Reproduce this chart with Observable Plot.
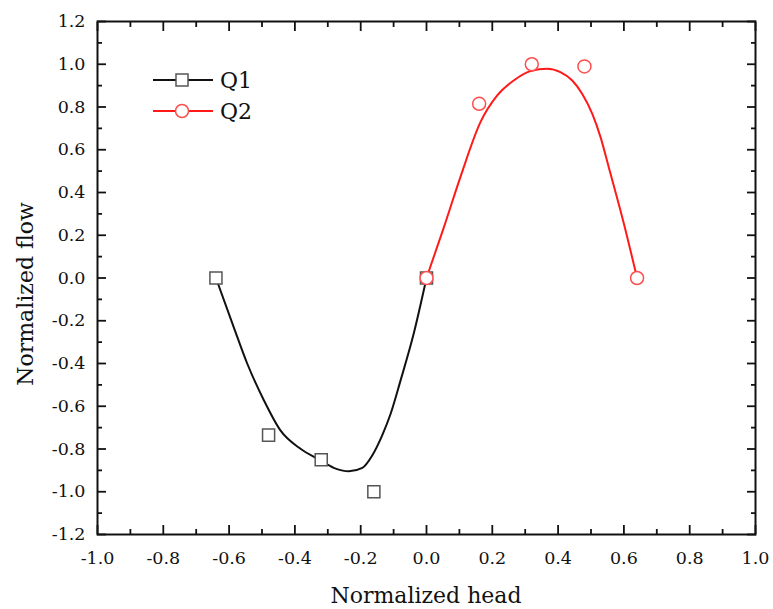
<!DOCTYPE html>
<html>
<head>
<meta charset="utf-8">
<script src="https://cdn.jsdelivr.net/npm/d3@7"></script>
<script src="https://cdn.jsdelivr.net/npm/@observablehq/plot@0.6"></script>
<style>
  html, body { margin: 0; padding: 0; background: #fff; }
  #chart { width: 773px; height: 609px; }
</style>
</head>
<body>
<div id="chart"></div>
<script>
// Measured points
const q1Head = [-0.64, -0.48, -0.32, -0.16, 0.0];
const q1Flow = [0.0, -0.735, -0.85, -1.0, 0.0];
const q2Head = [0.0, 0.16, 0.32, 0.48, 0.64];
const q2Flow = [0.0, 0.815, 1.0, 0.99, 0.0];

// Fitted curves
const q1CurveHead = [-0.64, -0.586, -0.545, -0.494, -0.444, -0.383, -0.322, -0.282, -0.236, -0.195, -0.165, -0.135, -0.109, -0.079, -0.039, 0.0];
const q1CurveFlow = [0.0, -0.23, -0.40, -0.573, -0.713, -0.799, -0.853, -0.888, -0.904, -0.888, -0.830, -0.737, -0.635, -0.480, -0.261, 0.0];
const q2CurveHead = [0.0, 0.053, 0.103, 0.164, 0.215, 0.265, 0.316, 0.367, 0.407, 0.443, 0.473, 0.504, 0.529, 0.554, 0.600, 0.64];
const q2CurveFlow = [0.0, 0.238, 0.472, 0.729, 0.854, 0.924, 0.968, 0.979, 0.963, 0.924, 0.862, 0.768, 0.659, 0.518, 0.254, 0.0];

// Ticks
const xMajorTicks = [-1.0, -0.8, -0.6, -0.4, -0.2, 0.0, 0.2, 0.4, 0.6, 0.8, 1.0];
const xMinorTicks = [-0.9, -0.7, -0.5, -0.3, -0.1, 0.1, 0.3, 0.5, 0.7, 0.9];
const yMajorTicks = [-1.2, -1.0, -0.8, -0.6, -0.4, -0.2, 0.0, 0.2, 0.4, 0.6, 0.8, 1.0, 1.2];
const yMinorTicks = [-1.1, -0.9, -0.7, -0.5, -0.3, -0.1, 0.1, 0.3, 0.5, 0.7, 0.9, 1.1];

const seriesNames = ["Q1", "Q2"];
const xTitle = "Normalized head";
const yTitle = "Normalized flow";

const q1Pts = q1Head.map((h, i) => ({h, f: q1Flow[i]}));
const q2Pts = q2Head.map((h, i) => ({h, f: q2Flow[i]}));
const q1Curve = q1CurveHead.map((h, i) => ({h, f: q1CurveFlow[i]}));
const q2Curve = q2CurveHead.map((h, i) => ({h, f: q2CurveFlow[i]}));

const fmt = d => d.toFixed(1);
const font = "DejaVu Serif, serif";

const plot = Plot.plot({
  width: 773,
  height: 609,
  marginLeft: 97,
  marginRight: 18,
  marginTop: 21,
  marginBottom: 75,
  style: {fontFamily: font, fontSize: "17px", color: "#111", background: "#fff"},
  x: {domain: [-1, 1]},
  y: {domain: [-1.2, 1.2]},
  marks: [
    // labels
    Plot.axisX({ticks: xMajorTicks, tickFormat: fmt, tickSize: 0, tickPadding: 17, label: null, fill: "#111"}),
    Plot.axisY({ticks: yMajorTicks, tickFormat: fmt, tickSize: 0, tickPadding: 12, label: null, fill: "#111"}),
    // inward ticks
    Plot.axisX({anchor: "bottom", ticks: xMajorTicks, tickSize: -9, text: null, label: null, strokeWidth: 1.8}),
    Plot.axisX({anchor: "bottom", ticks: xMinorTicks, tickSize: -5, text: null, label: null, strokeWidth: 1.8}),
    Plot.axisX({anchor: "top", ticks: xMajorTicks, tickSize: -9, text: null, label: null, strokeWidth: 1.8}),
    Plot.axisX({anchor: "top", ticks: xMinorTicks, tickSize: -5, text: null, label: null, strokeWidth: 1.8}),
    Plot.axisY({anchor: "left", ticks: yMajorTicks, tickSize: -9, text: null, label: null, strokeWidth: 1.8}),
    Plot.axisY({anchor: "left", ticks: yMinorTicks, tickSize: -5, text: null, label: null, strokeWidth: 1.8}),
    Plot.axisY({anchor: "right", ticks: yMajorTicks, tickSize: -9, text: null, label: null, strokeWidth: 1.8}),
    Plot.axisY({anchor: "right", ticks: yMinorTicks, tickSize: -5, text: null, label: null, strokeWidth: 1.8}),
    Plot.frame({stroke: "#111", strokeWidth: 2}),
    // curves
    Plot.line(q1Curve, {x: "h", y: "f", curve: "monotone-x", stroke: "#111", strokeWidth: 2}),
    Plot.line(q2Curve, {x: "h", y: "f", curve: "monotone-x", stroke: "#ff1a1a", strokeWidth: 2}),
    // markers
    Plot.dot(q1Pts, {x: "h", y: "f", symbol: "square", r: 6.8, stroke: "#555", strokeWidth: 1.5, fill: "white"}),
    Plot.dot(q2Pts, {x: "h", y: "f", symbol: "circle", r: 6.5, stroke: "#ff4d4d", strokeWidth: 1.5, fill: "white"})
  ]
});

const svg = d3.select(plot);
// force tick label size on every Plot-generated text
svg.selectAll("text").style("font-size", "17.5px").style("font-family", font);

// axis titles
svg.append("text").attr("x", 426).attr("y", 603).attr("text-anchor", "middle")
  .attr("font-family", font).attr("font-size", 22).attr("fill", "#111").text(xTitle);
svg.append("text").attr("transform", "translate(33,294) rotate(-90)").attr("text-anchor", "middle")
  .attr("font-family", font).attr("font-size", 22).attr("fill", "#111").text(yTitle);

// legend
const lg = svg.append("g");
const rows = [
  {name: seriesNames[0], y: 80, color: "#111", mstroke: "#555", sym: "square"},
  {name: seriesNames[1], y: 111, color: "#ff1a1a", mstroke: "#ff4d4d", sym: "circle"}
];
rows.forEach(r => {
  lg.append("line").attr("x1", 153).attr("x2", 213).attr("y1", r.y).attr("y2", r.y)
    .attr("stroke", r.color).attr("stroke-width", 2);
  if (r.sym === "square") {
    lg.append("rect").attr("x", 176).attr("y", r.y - 6).attr("width", 12).attr("height", 12)
      .attr("fill", "white").attr("stroke", r.mstroke).attr("stroke-width", 1.5);
  } else {
    lg.append("circle").attr("cx", 182).attr("cy", r.y).attr("r", 6.5)
      .attr("fill", "white").attr("stroke", r.mstroke).attr("stroke-width", 1.5);
  }
  lg.append("text").attr("x", 220).attr("y", r.y + 8).attr("text-anchor", "start")
    .attr("font-family", font).attr("font-size", 22).attr("fill", "#111").text(r.name);
});

document.getElementById("chart").appendChild(plot);
</script>
</body>
</html>
